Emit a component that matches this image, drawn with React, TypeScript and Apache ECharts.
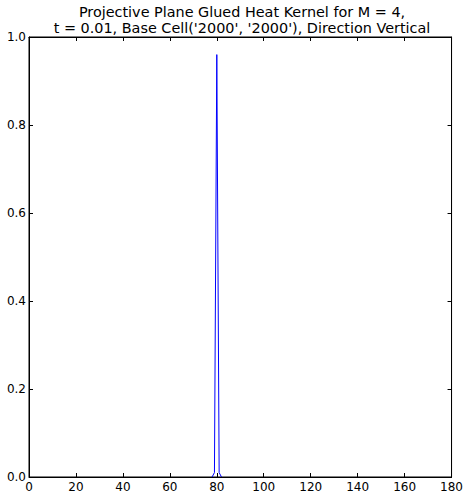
import React, { useEffect, useRef } from "react";
import * as echarts from "echarts";

const titleLines = [
  "Projective Plane Glued Heat Kernel for M = 4,",
  "t = 0.01, Base Cell('2000', '2000'), Direction Vertical",
];
const xValues = [78, 79, 80, 81, 82];
const yValues = [0, 0.01, 0.96, 0.01, 0];

export default function App() {
  const ref = useRef<HTMLDivElement>(null);
  useEffect(() => {
    if (!ref.current) return;
    const chart = echarts.init(ref.current, null, { renderer: "svg" });
    const font = "DejaVu Sans";
    const tickCommon = {
      axisLine: { show: true, onZero: false, lineStyle: { color: "#000", width: 1 } },
      axisTick: { show: true, inside: true, length: 4, lineStyle: { color: "#000" } },
      splitLine: { show: false },
    };
    chart.setOption({
      animation: false,
      backgroundColor: "#fff",
      graphic: [
        {
          type: "text",
          x: 242,
          y: 20,
          style: {
            text: titleLines.join("\n"),
            fontFamily: font,
            fontSize: 14.4,
            lineHeight: 16.5,
            fill: "#000",
            align: "center",
            verticalAlign: "middle",
          },
        },
      ],
      grid: { left: 29, right: 13, top: 37, bottom: 20, show: true, borderColor: "#000", borderWidth: 1 },
      xAxis: [
        {
          type: "value",
          min: 0,
          max: 180,
          interval: 20,
          position: "bottom",
          ...tickCommon,
          axisLabel: { fontFamily: font, fontSize: 12, color: "#000", margin: 4 },
        },
        {
          type: "value",
          min: 0,
          max: 180,
          interval: 20,
          position: "top",
          ...tickCommon,
          axisLabel: { show: false },
        },
      ],
      yAxis: [
        {
          type: "value",
          min: 0,
          max: 1,
          interval: 0.2,
          position: "left",
          ...tickCommon,
          axisLabel: {
            fontFamily: font,
            fontSize: 12,
            color: "#000",
            margin: 3,
            formatter: (v: number) => v.toFixed(1),
          },
        },
        {
          type: "value",
          min: 0,
          max: 1,
          interval: 0.2,
          position: "right",
          ...tickCommon,
          axisLabel: { show: false },
        },
      ],
      series: [
        {
          type: "line",
          data: xValues.map((x, i) => [x, yValues[i]]),
          showSymbol: false,
          symbol: "none",
          lineStyle: { color: "#0000ff", width: 1 },
          z: 1,
        },
      ],
    });
    return () => chart.dispose();
  }, []);
  return <div ref={ref} style={{ width: 466, height: 497, position: "absolute", left: 0, top: 0 }} />;
}
